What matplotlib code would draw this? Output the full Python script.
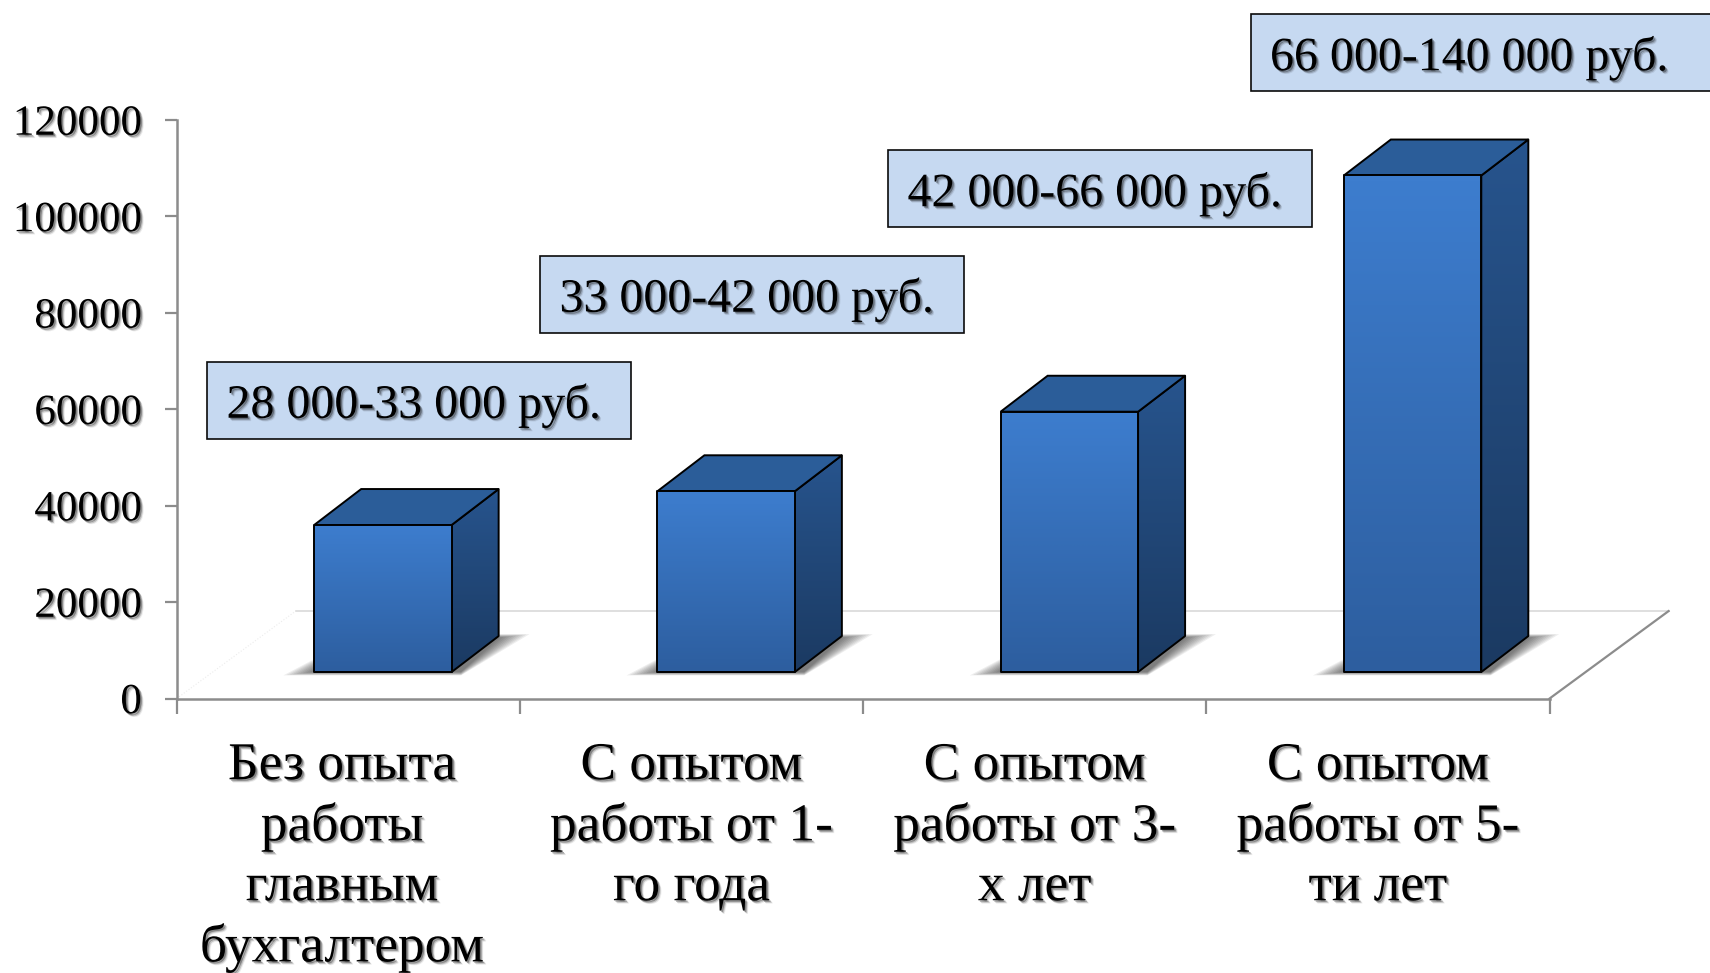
"""
Salary by work experience: pseudo-3D bar chart with gradient faces.
"""

import numpy as np
import matplotlib
matplotlib.use("Agg")
import matplotlib.pyplot as plt
import matplotlib.patheffects as pe
from matplotlib.colors import LinearSegmentedColormap
from matplotlib.patches import Polygon, Rectangle

categories = [
    "Без опыта\nработы\nглавным\nбухгалтером",
    "С опытом\nработы от 1-\nго года",
    "С опытом\nработы от 3-\nх лет",
    "С опытом\nработы от 5-\nти лет",
]
values = [30500, 37500, 54000, 103000]
range_labels = [
    "28 000-33 000 руб.",
    "33 000-42 000 руб.",
    "42 000-66 000 руб.",
    "66 000-140 000 руб.",
]
y_ticks = [0, 20000, 40000, 60000, 80000, 100000, 120000]

# box placement on the slide, in pixels (left, top, width, height)
box_left = [207, 540, 888, 1250.5]
box_top = [361.5, 255.5, 150, 14]
box_width = [424, 424, 424, 480]
BOX_HEIGHT = 77

# fake 3D geometry, in data units
BAR_LEFT, BAR_RIGHT = 0.4005, 0.8010
BAR_BASE = 5490
BAR_DX, BAR_DY = 0.137, 7460
FLOOR_DX, FLOOR_DY = 0.3467, 18135

FONT = "Liberation Serif"
AXIS_GREY = "#8c8c8c"

plt.rcParams["font.family"] = FONT


def soft_shadow():
    return [
        pe.SimplePatchShadow(offset=(2.4, -2.4), shadow_rgbFace="k", alpha=0.08),
        pe.SimplePatchShadow(offset=(1.8, -1.8), shadow_rgbFace="k", alpha=0.18),
        pe.SimplePatchShadow(offset=(1.1, -1.1), shadow_rgbFace="k", alpha=0.32),
        pe.Normal(),
    ]


def gradient_face(ax, verts, top_color, bottom_color, zorder):
    xs = [v[0] for v in verts]
    ys = [v[1] for v in verts]
    cmap = LinearSegmentedColormap.from_list("face", [top_color, bottom_color])
    grad = np.linspace(0, 1, 64).reshape(-1, 1)
    im = ax.imshow(grad, cmap=cmap, aspect="auto", origin="upper", interpolation="bilinear",
                   extent=(min(xs), max(xs), min(ys), max(ys)), zorder=zorder)
    outline = Polygon(verts, closed=True, fc="none", ec="black", lw=1.4, zorder=zorder + 0.1,
                      joinstyle="round")
    ax.add_patch(outline)
    im.set_clip_path(outline)


def draw_shadow(ax, x0, x1, zorder):
    # stacked translucent shapes standing in for a blur
    layers = 10
    for k in range(layers):
        t = k / (layers - 1)
        grow = 0.085 * (1 - t) + 0.005
        low = BAR_BASE - 700 * (1 - t)
        high = BAR_BASE + BAR_DY + 700 * (1 - t) - 300
        verts = [
            (x0 - grow, low),
            (x1 + BAR_DX * 0.2, low),
            (x1 + BAR_DX + grow, high),
            (x0 + BAR_DX, high),
        ]
        ax.add_patch(Polygon(verts, closed=True, fc="k", ec="none", alpha=0.065,
                             zorder=zorder, clip_on=False))


def draw_bar(ax, i, value):
    x0, x1 = i + BAR_LEFT, i + BAR_RIGHT
    low, high = BAR_BASE, BAR_BASE + value
    draw_shadow(ax, x0, x1, 2)
    side = [(x1, low), (x1 + BAR_DX, low + BAR_DY), (x1 + BAR_DX, high + BAR_DY), (x1, high)]
    gradient_face(ax, side, "#27548d", "#1b3a62", 3)
    top = [(x0, high), (x1, high), (x1 + BAR_DX, high + BAR_DY), (x0 + BAR_DX, high + BAR_DY)]
    ax.add_patch(Polygon(top, closed=True, fc="#2b5d99", ec="black", lw=1.4, zorder=3.2))
    front = [(x0, low), (x1, low), (x1, high), (x0, high)]
    gradient_face(ax, front, "#3d7dce", "#2d5e9f", 4)


def main():
    fig = plt.figure(figsize=(17.1, 9.73), dpi=100, facecolor="white")
    ax = fig.add_axes([176.7 / 1710, (973 - 698.5) / 973, 1372.9 / 1710, 578.5 / 973])

    # floor
    ax.plot([FLOOR_DX, 4 + FLOOR_DX], [FLOOR_DY, FLOOR_DY], color="#d9d9d9", lw=1.2, zorder=1,
            clip_on=False)
    ax.plot([0, FLOOR_DX], [0, FLOOR_DY], color="#ececec", lw=0.8, ls=":", zorder=1, clip_on=False)
    ax.plot([4, 4 + FLOOR_DX], [0, FLOOR_DY], color=AXIS_GREY, lw=1.6, zorder=1, clip_on=False)

    for i, value in enumerate(values):
        draw_bar(ax, i, value)

    ax.set_xlim(0, 4)
    ax.set_ylim(0, 120000)
    ax.patch.set_visible(False)

    for side in ("top", "right"):
        ax.spines[side].set_visible(False)
    for side in ("left", "bottom"):
        ax.spines[side].set_color(AXIS_GREY)
        ax.spines[side].set_linewidth(1.8)

    ax.set_yticks(y_ticks, labels=[str(v) for v in y_ticks])
    ax.set_xticks(range(5), labels=[""] * 5)
    ax.set_xticks([0.482, 1.5, 2.5, 3.5], labels=categories, minor=True)
    ax.tick_params(axis="y", length=8.6, width=1.6, color=AXIS_GREY, pad=16.5, labelsize=31)
    ax.tick_params(axis="x", which="major", length=10.5, width=1.6, color=AXIS_GREY)
    ax.tick_params(axis="x", which="minor", length=0, pad=31.5, labelsize=38.4)
    for label in ax.get_yticklabels() + ax.get_xticklabels(minor=True):
        label.set_path_effects(soft_shadow())
        label.set_linespacing(1.32)

    # overlay in slide pixels for the range boxes
    over = fig.add_axes([0, 0, 1, 1], facecolor="none")
    over.set_xlim(0, 1710)
    over.set_ylim(973, 0)
    over.axis("off")
    for text, left, top, width in zip(range_labels, box_left, box_top, box_width):
        over.add_patch(Rectangle((left, top), width, BOX_HEIGHT, fc="#c6d9f1", ec="#0a0a0a", lw=1.2))
        over.text(left + 19.5, top + BOX_HEIGHT / 2 + 5, text, fontsize=34.5, va="center", ha="left",
                  color="black", path_effects=soft_shadow())

    fig.savefig("out.png", dpi=100)
    print("Saved out.png")


if __name__ == "__main__":
    main()
